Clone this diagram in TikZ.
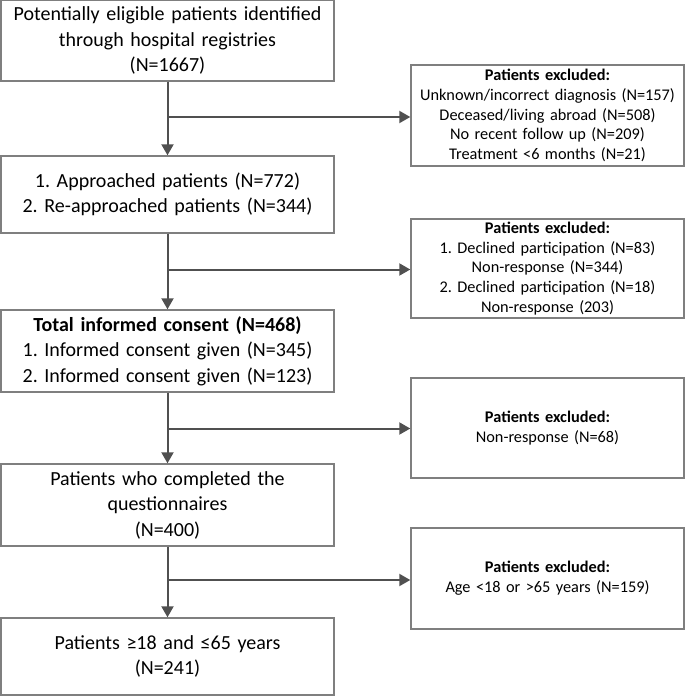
\documentclass[tikz,border=0pt]{standalone}
\usepackage{fontspec}
\setmainfont{Carlito}
\usetikzlibrary{arrows.meta}
\definecolor{boxgray}{HTML}{7F7F7F}
\definecolor{arrgray}{HTML}{505050}
\frenchspacing
\begin{document}
\begin{tikzpicture}[x=1pt,y=-1pt,
  mainbox/.style={draw=boxgray, line width=1.4pt, minimum width=333pt, text width=325pt,
    align=center, inner sep=0pt, font=\fontsize{20}{25.5}\selectfont},
  exclbox/.style={draw=boxgray, line width=1.4pt, minimum width=273pt, text width=265pt,
    align=center, inner sep=0pt, font=\fontsize{16.3}{19.7}\selectfont},
  flow/.style={draw=arrgray, line width=2pt, -{Triangle[width=12pt,length=11pt]}}]
\useasboundingbox (0,0) rectangle (685,696);

\node[mainbox, minimum height=81pt] (b1) at (167.5,40.5)
  {Potentially eligible patients identified\\through hospital registries\\(N=1667)};
\node[mainbox, minimum height=77pt] (b2) at (167.5,194.5)
  {1. Approached patients (N=772)\\2. Re-approached patients (N=344)};
\node[mainbox, minimum height=82pt] (b3) at (167.5,351)
  {\textbf{Total informed consent (N=468)}\\1. Informed consent given (N=345)\\2. Informed consent given (N=123)};
\node[mainbox, minimum height=82pt] (b4) at (167.5,505)
  {Patients who completed the\\questionnaires\\(N=400)};
\node[mainbox, minimum height=77pt] (b5) at (167.5,656.5)
  {Patients ≥18 and ≤65 years\\(N=241)};

\node[exclbox, minimum height=101pt] (r1) at (547.5,115.5)
  {\textbf{Patients excluded:}\\Unknown/incorrect diagnosis (N=157)\\Deceased/living abroad (N=508)\\No recent follow up (N=209)\\Treatment <6 months (N=21)};
\node[exclbox, minimum height=99pt] (r2) at (547.5,268.5)
  {\textbf{Patients excluded:}\\1. Declined participation (N=83)\\Non-response (N=344)\\2. Declined participation (N=18)\\Non-response (203)};
\node[exclbox, minimum height=100pt] (r3) at (547.5,428)
  {\textbf{Patients excluded:}\\Non-response (N=68)};
\node[exclbox, minimum height=101pt] (r4) at (547.5,578.5)
  {\textbf{Patients excluded:}\\Age <18 or >65 years (N=159)};

\coordinate (c1) at (167.5,117);
\coordinate (c2) at (167.5,269.5);
\coordinate (c3) at (167.5,428.5);
\coordinate (c4) at (167.5,580);

\draw[flow] (b1.south) -- (b2.north);
\draw[flow] (b2.south) -- (b3.north);
\draw[flow] (b3.south) -- (b4.north);
\draw[flow] (b4.south) -- (b5.north);

\draw[flow] (c1) -- (c1 -| r1.west);
\draw[flow] (c2) -- (c2 -| r2.west);
\draw[flow] (c3) -- (c3 -| r3.west);
\draw[flow] (c4) -- (c4 -| r4.west);
\end{tikzpicture}
\end{document}
